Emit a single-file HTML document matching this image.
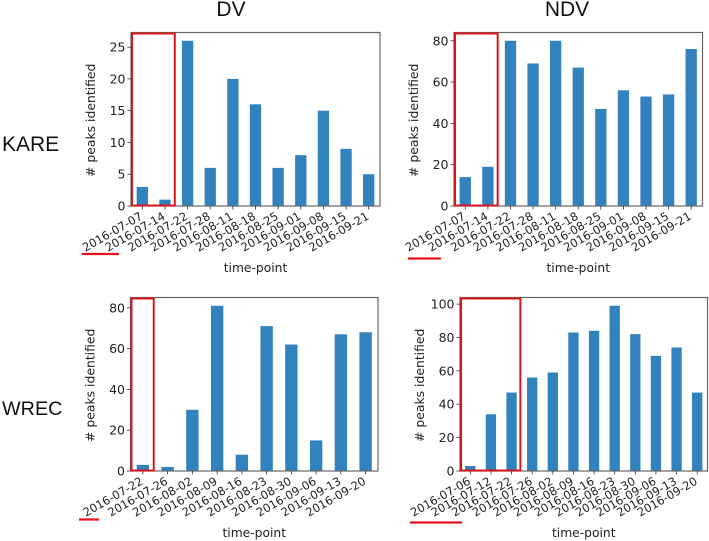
<!DOCTYPE html>
<html>
<head>
<meta charset="utf-8">
<title>Peaks identified per time-point</title>
<style>
html,body{margin:0;padding:0;background:#fff;}
svg{display:block;filter:blur(0.35px);}
text{fill:#222;font-family:"DejaVu Sans",sans-serif;}
.head{font-family:"Liberation Sans",sans-serif;fill:#111;}
</style>
</head>
<body>
<svg id="chart" width="709" height="541" viewBox="0 0 709 541" xmlns="http://www.w3.org/2000/svg">
<text class="head" x="231" y="16" font-size="21" text-anchor="middle">DV</text>
<text class="head" x="567" y="16" font-size="21" text-anchor="middle">NDV</text>
<text class="head" x="2" y="151" font-size="21">KARE</text>
<text class="head" x="2" y="415" font-size="19.8">WREC</text>
</svg>
<script>
const kareDvDates = ["2016-07-07","2016-07-14","2016-07-22","2016-07-28","2016-08-11","2016-08-18","2016-08-25","2016-09-01","2016-09-08","2016-09-15","2016-09-21"];
const kareDvValues = [3,1,26,6,20,16,6,8,15,9,5];
const kareDvTicks = [0,5,10,15,20,25];
const kareNdvDates = ["2016-07-07","2016-07-14","2016-07-22","2016-07-28","2016-08-11","2016-08-18","2016-08-25","2016-09-01","2016-09-08","2016-09-15","2016-09-21"];
const kareNdvValues = [14,19,80,69,80,67,47,56,53,54,76];
const kareNdvTicks = [0,20,40,60,80];
const wrecDvDates = ["2016-07-22","2016-07-26","2016-08-02","2016-08-09","2016-08-16","2016-08-23","2016-08-30","2016-09-06","2016-09-13","2016-09-20"];
const wrecDvValues = [3,2,30,81,8,71,62,15,67,68];
const wrecDvTicks = [0,20,40,60,80];
const wrecNdvDates = ["2016-07-06","2016-07-12","2016-07-22","2016-07-26","2016-08-02","2016-08-09","2016-08-16","2016-08-23","2016-08-30","2016-09-06","2016-09-13","2016-09-20"];
const wrecNdvValues = [3,34,47,56,59,83,84,99,82,69,74,47];
const wrecNdvTicks = [0,20,40,60,80,100];

const svg = document.getElementById('chart');
const NS = 'http://www.w3.org/2000/svg';

function make(tag, attrs, parent, content) {
  const el = document.createElementNS(NS, tag);
  for (const k in attrs) el.setAttribute(k, attrs[k]);
  if (content !== undefined) el.textContent = content;
  parent.appendChild(el);
  return el;
}

function drawPanel(id, dates, values, ticks, left, right, top, bottom, boxCount, lineX1, lineX2, lineY) {
  const group = make('g', {}, svg);
  
  

  const step = (right - left) / dates.length;
  const x = i => left + (i + 0.5) * step;
  const yMax = Math.max(...values) * 1.05;
  const y = v => bottom - (v / yMax) * (bottom - top);

  values.forEach((v, i) => {
    const bar = make('rect', {x: x(i) - step / 4, y: y(v), width: step / 2, height: bottom - y(v), fill: '#3282bd'}, group);
    
    
  });

  const frame = make('rect', {x: left, y: top, width: right - left, height: bottom - top, fill: 'none', stroke: '#666', 'stroke-width': 1.2}, group);
  
  

  ticks.forEach(t => {
    const mark = make('line', {x1: left - 3.5, x2: left, y1: y(t), y2: y(t), stroke: '#333', 'stroke-width': 0.8}, group);
    
    
    const label = make('text', {x: left - 5.5, y: y(t) + 4.5, 'font-size': 12.5, 'text-anchor': 'end'}, group, String(t));
    
    
  });

  dates.forEach((d, i) => {
    const mark = make('line', {x1: x(i), x2: x(i), y1: bottom, y2: bottom + 3.5, stroke: '#333', 'stroke-width': 0.8}, group);
    
    
    const tx = x(i) + 1;
    const ty = bottom + 12.5;
    const label = make('text', {x: tx, y: ty, 'font-size': 11.5, 'text-anchor': 'end', transform: 'rotate(-30 ' + tx + ' ' + ty + ')'}, group, d);
    
    
  });

  const xTitle = make('text', {x: (left + right) / 2, y: bottom + 66, 'font-size': 12.3, 'text-anchor': 'middle'}, group, 'time-point');
  
  

  const ly = (top + bottom) / 2 + 1;
  const lx = left - 36;
  const yTitle = make('text', {x: lx, y: ly, 'font-size': 12.4, 'text-anchor': 'middle', transform: 'rotate(-90 ' + lx + ' ' + ly + ')'}, group, '# peaks identified');
  
  

  const boxRight = x(boxCount - 1) + step / 2 - 1.5;
  const box = make('rect', {x: left + 1, y: top + 1, width: boxRight - left - 1, height: bottom - top - 1.5, fill: 'none', stroke: '#d8161c', 'stroke-width': 2}, group);
  
  

  const under = make('line', {x1: lineX1, x2: lineX2, y1: lineY, y2: lineY, stroke: '#e3141a', 'stroke-width': 2.2}, group);
  
  
}

drawPanel('kare-dv', kareDvDates, kareDvValues, kareDvTicks, 131, 380, 32.5, 206, 2, 82, 119, 254);
drawPanel('kare-ndv', kareNdvDates, kareNdvValues, kareNdvTicks, 454, 702.5, 32.5, 206, 2, 408, 441, 258.5);
drawPanel('wrec-dv', wrecDvDates, wrecDvValues, wrecDvTicks, 130.5, 378, 297.5, 471, 1, 79, 99, 519.5);
drawPanel('wrec-ndv', wrecNdvDates, wrecNdvValues, wrecNdvTicks, 460, 707.5, 297.5, 471, 3, 410, 462, 522.5);
</script>
</body>
</html>
